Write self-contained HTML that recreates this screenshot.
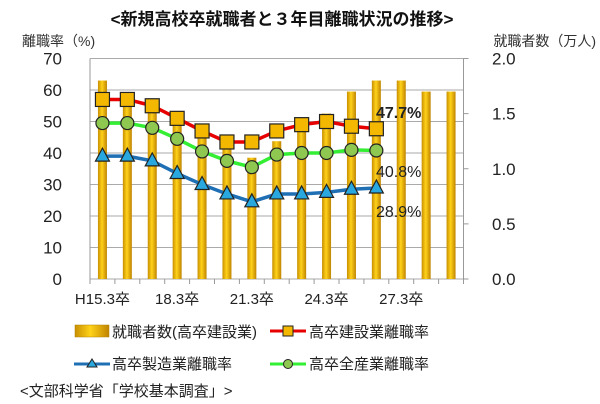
<!DOCTYPE html>
<html><head><meta charset="utf-8">
<style>
body{margin:0;background:#fff;}
svg{display:block;font-family:"Liberation Sans","Noto Sans CJK JP",sans-serif;}
</style></head>
<body>
<svg id="chart" width="600" height="404" viewBox="0 0 600 404" xmlns="http://www.w3.org/2000/svg">
<defs>
<linearGradient id="barg" x1="0" x2="1" y1="0" y2="0">
<stop offset="0" stop-color="#c88f00"/><stop offset="0.45" stop-color="#ffd21a"/><stop offset="1" stop-color="#c08400"/>
</linearGradient>
</defs>
<text x="282" y="25" text-anchor="middle" font-size="17" font-weight="bold" fill="#111">&lt;新規高校卒就職者と３年目離職状況の推移&gt;</text>
<text x="22" y="46" font-size="14" fill="#333">離職率（%)</text>
<text x="596" y="46" text-anchor="end" font-size="14" fill="#333">就職者数（万人)</text>
<g id="grid"></g><g id="bars"></g><g id="lines"></g><g id="labels"></g>
<g>
<rect x="75" y="325" width="34" height="12" fill="url(#barg)" stroke="#b08000" stroke-width="0.5"/>
<text x="112" y="337" font-size="15" fill="#222">就職者数(高卒建設業)</text>
<line x1="270" y1="331" x2="306" y2="331" stroke="#e60000" stroke-width="3"/>
<rect x="283" y="326" width="10" height="10" fill="#f5b800" stroke="#222" stroke-width="1"/>
<text x="309" y="337" font-size="15" fill="#222">高卒建設業離職率</text>
<line x1="74" y1="364" x2="110" y2="364" stroke="#1f6fb5" stroke-width="3"/>
<polygon points="92,359 97,367 87,367" fill="#29a8e0" stroke="#222" stroke-width="1"/>
<text x="112" y="369" font-size="15" fill="#222">高卒製造業離職率</text>
<line x1="270" y1="364" x2="306" y2="364" stroke="#33ee33" stroke-width="3"/>
<circle cx="288" cy="364" r="4.5" fill="#8fc850" stroke="#222" stroke-width="1"/>
<text x="309" y="369" font-size="15" fill="#222">高卒全産業離職率</text>
</g>
<text x="20" y="396" font-size="15" fill="#222">&lt;文部科学省「学校基本調査」&gt;</text>
</svg>
<script>
const barValues=[1.8,1.63,1.57,1.43,1.3,1.2,1.1,1.25,1.37,1.5,1.7,1.8,1.8,1.7,1.7];
const constructionRate=[57,57,55,51,47,43.5,43.5,47,49,50,48.5,47.7];
const allRate=[49.5,49.5,48,44.5,40.5,37.5,35.5,39.5,40,40,41,40.8];
const manufacturingRate=[39,39,37.5,33.5,30,27,24.5,27,27,27.5,28.5,28.9];
const leftTicks=[0,10,20,30,40,50,60,70];
const rightTicks=["0.0","0.5","1.0","1.5","2.0"];
const xLabels=["H15.3卒","","","18.3卒","","","21.3卒","","","24.3卒","","","27.3卒","",""];
const NS="http://www.w3.org/2000/svg";
const L=90,R=463.5,T=58.5,B=279,N=15,step=(R-L)/N;
const yL=v=>B-(v/70)*(B-T);
const yR=v=>B-(v/2)*(B-T);
const xC=i=>L+step*(i+0.5);
function mk(tag,attrs,parent){const e=document.createElementNS(NS,tag);for(const k in attrs)e.setAttribute(k,attrs[k]);parent.appendChild(e);return e;}
const grid=document.getElementById('grid'),bars=document.getElementById('bars'),lines=document.getElementById('lines'),labels=document.getElementById('labels');
leftTicks.forEach(t=>{
 const g=mk('line',{x1:L,x2:R,y1:yL(t),y2:yL(t),stroke:'#aaa','stroke-width':1},grid);
 
 
 const tx=mk('text',{x:62,y:yL(t)+6,'text-anchor':'end','font-size':17,fill:'#222'},labels);
 tx.textContent=t;
 
 
});
rightTicks.forEach(t=>{
 const tx=mk('text',{x:492,y:yR(+t)+6,'font-size':17,fill:'#222'},labels);
 tx.textContent=t;
 
 
 mk('line',{x1:R,x2:R+5,y1:yR(+t),y2:yR(+t),stroke:'#999'},grid);
});
mk('line',{x1:L,x2:L,y1:T,y2:B,stroke:'#999'},grid);
mk('line',{x1:R,x2:R,y1:T,y2:B,stroke:'#999'},grid);
for(let i=0;i<=N;i++){mk('line',{x1:L+step*i,x2:L+step*i,y1:B,y2:B+5,stroke:'#999'},grid);}
barValues.forEach((v,i)=>{
 const r=mk('rect',{x:xC(i)-4.5,y:yR(v),width:9,height:B-yR(v),fill:'url(#barg)'},bars);
 
 
});
xLabels.forEach((s,i)=>{if(!s)return;
 const tx=mk('text',{x:xC(i),y:304,'text-anchor':'middle','font-size':15,fill:'#222'},labels);
 tx.textContent=s;
 
 
});
function series(data,color,name,marker){
 const pts=data.map((v,i)=>xC(i)+','+yL(v)).join(' ');
 const pl=mk('polyline',{points:pts,fill:'none',stroke:color,'stroke-width':3.5,'stroke-linejoin':'round'},lines);
 
 
 data.forEach((v,i)=>{const x=xC(i),y=yL(v);let m;
  if(marker==='sq')m=mk('rect',{x:x-7,y:y-7,width:14,height:14,fill:'#f5b800',stroke:'#222','stroke-width':1.2},lines);
  else if(marker==='ci')m=mk('circle',{cx:x,cy:y,r:6.5,fill:'#8fc850',stroke:'#222','stroke-width':1.2},lines);
  else m=mk('polygon',{points:`${x},${y-8} ${x+7},${y+5} ${x-7},${y+5}`,fill:'#29a8e0',stroke:'#222','stroke-width':1.2},lines);
  
  
 });
}
series(manufacturingRate,'#1f6fb5','manufacturing-rate','tr');
series(allRate,'#33ee33','all-industry-rate','ci');
series(constructionRate,'#e60000','construction-rate','sq');
function lab(t,x,y,bold,name){const tx=mk('text',{x:x,y:y,'font-size':16,fill:'#222','font-weight':bold?'bold':'normal'},labels);tx.textContent=t;
 
 }
lab(constructionRate[11].toFixed(1)+'%',376,118,true,'construction-end-label');
lab(allRate[11].toFixed(1)+'%',376,177,false,'all-end-label');
lab(manufacturingRate[11].toFixed(1)+'%',376,217,false,'manufacturing-end-label');
</script>
</body></html>
